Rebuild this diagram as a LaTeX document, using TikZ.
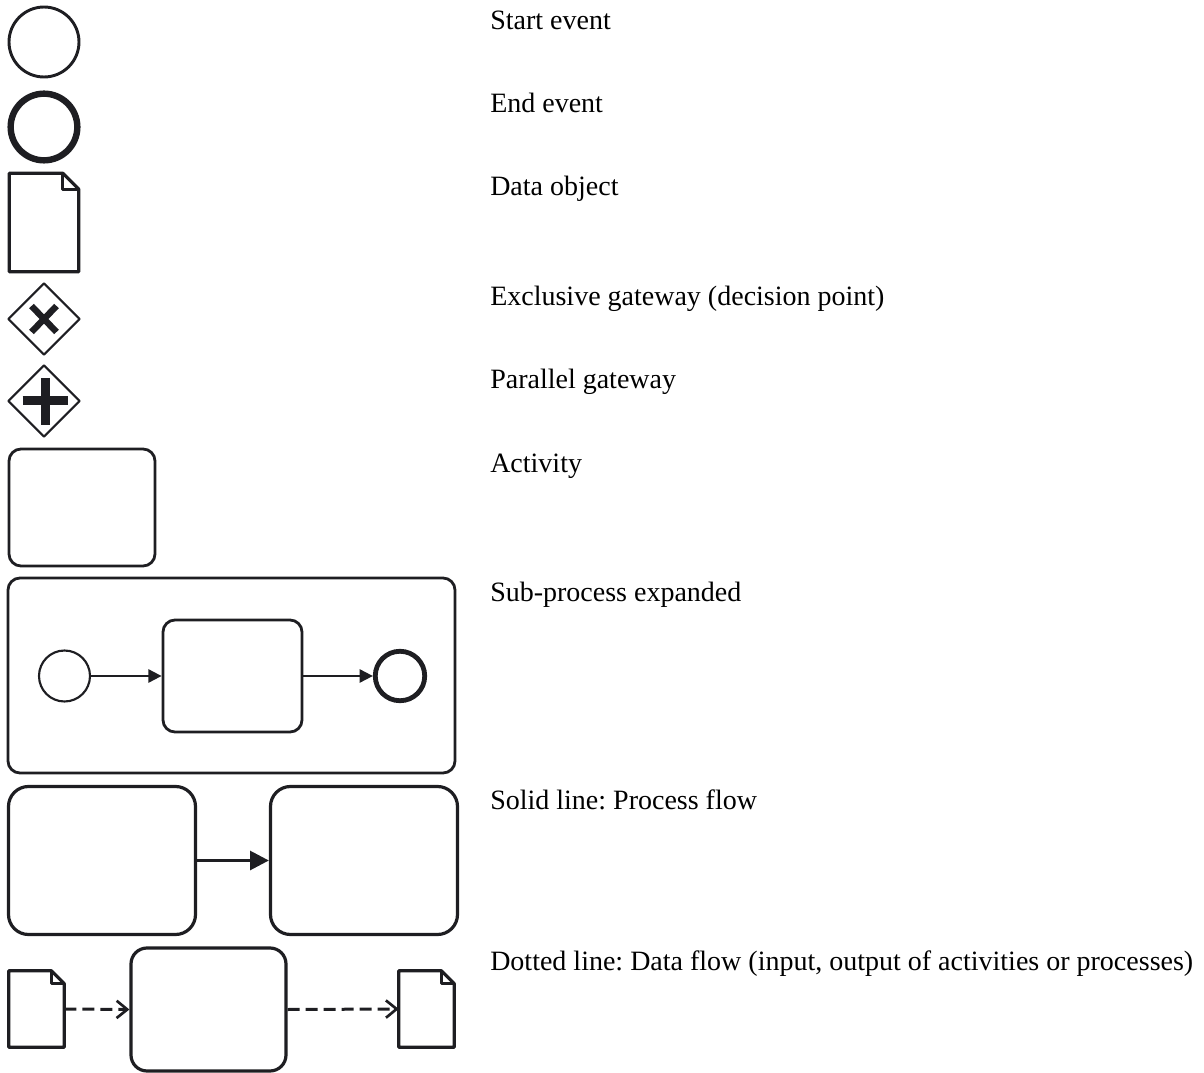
\documentclass[tikz,border=0pt]{standalone}
\usepackage{fontspec}
\setmainfont{Liberation Serif}
\usetikzlibrary{shapes.geometric,arrows.meta,calc}
\definecolor{ink}{HTML}{1E1E22}
\frenchspacing
\begin{document}
\begin{tikzpicture}[x=0.75pt,y=-0.75pt,line join=round,
  lbl/.style={anchor=base west,inner sep=0pt,font=\fontsize{21pt}{25pt}\selectfont,text=black},
  startev/.style={circle,draw=ink,inner sep=0pt,minimum size=#1},
  docanchor/.style={rectangle,draw=none,inner sep=0pt},
  gatew/.style={diamond,draw=ink,line width=1.6pt,inner sep=0pt,minimum size=54pt,aspect=1},
  task/.style={rectangle,draw=ink,inner sep=0pt},
  flowarrow/.style={draw=ink,-{Triangle[length=#1,width=#1]}},
  dataarrow/.style={draw=ink,line width=2.25pt,dash pattern=on 9pt off 4.5pt,-{Straight Barb[length=8pt,width=13pt,line width=2pt]}}
]
\useasboundingbox (0,0) rectangle (1204,1073);

% ---- Start event
\node[startev=52.5pt,line width=2.2pt] (se) at (44,42) {};
\node[lbl] (tse) at (490,30) {Start event};

% ---- End event
\node[startev=50pt,line width=4.8pt] (ee) at (44,127) {};
\node[lbl] (tee) at (490,113) {End event};

% ---- Data object
\node[docanchor,minimum width=51.75pt,minimum height=73.5pt] (doc) at (44,222.5) {};
\draw[draw=ink,line width=2.4pt] (doc.north west) -- ($(doc.north east)+(-16,0)$) -- ($(doc.north east)+(0,16)$) -- (doc.south east) -- (doc.south west) -- cycle;
\draw[draw=ink,line width=2.2pt] ($(doc.north east)+(-16,0)$) -- ($(doc.north east)+(-16,16)$) -- ($(doc.north east)+(0,16)$);
\node[lbl] (tdoc) at (490,196) {Data object};

% ---- Exclusive gateway
\node[gatew] (gx) at (44,319) {};
\draw[draw=ink,line width=4.8pt] ($(gx)+(-12.5,-13)$) -- ($(gx)+(12.5,13)$);
\draw[draw=ink,line width=4.8pt] ($(gx)+(-12.5,13)$) -- ($(gx)+(12.5,-13)$);
\node[lbl] (tgx) at (490,306) {Exclusive gateway (decision point)};

% ---- Parallel gateway
\node[gatew] (gp) at (44,401) {};
\draw[draw=ink,line width=6.75pt] ($(gp)+(-21.5,0)$) -- ($(gp)+(23.5,0)$);
\draw[draw=ink,line width=6.75pt] ($(gp)+(1,-23)$) -- ($(gp)+(1,24)$);
\node[lbl] (tgp) at (490,389) {Parallel gateway};

% ---- Activity
\node[task,line width=2.1pt,rounded corners=9pt,minimum width=109.5pt,minimum height=87.75pt] (act) at (82,507.5) {};
\node[lbl] (tact) at (490,472) {Activity};

% ---- Sub-process expanded
\node[task,line width=2.1pt,rounded corners=9pt,minimum width=335.25pt,minimum height=146.25pt] (sub) at (231.5,675.5) {};
\node[startev=38.25pt,line width=1.6pt] (sse) at (64.5,676) {};
\node[task,line width=2.1pt,rounded corners=9pt,minimum width=104.25pt,minimum height=84pt] (stk) at (232.5,676) {};
\node[startev=37.1pt,line width=3.6pt] (see) at (400,676) {};
\draw[flowarrow=10pt,line width=1.5pt] (sse.east) -- (stk.west);
\draw[flowarrow=10pt,line width=1.5pt] (stk.east) -- (see.west);
\node[lbl] (tsub) at (490,601) {Sub-process expanded};

% ---- Process flow
\node[task,line width=2.4pt,rounded corners=15pt,minimum width=140.25pt,minimum height=111pt] (pa) at (102,860.5) {};
\node[task,line width=2.4pt,rounded corners=15pt,minimum width=140.25pt,minimum height=111pt] (pb) at (364,860.5) {};
\draw[flowarrow=14pt,line width=2.4pt] (pa.east) -- (pb.west);
\node[lbl] (tpf) at (490,809) {Solid line: Process flow};

% ---- Data flow
\node[docanchor,minimum width=41.25pt,minimum height=57pt] (din) at (36.5,1009) {};
\draw[draw=ink,line width=2.4pt] (din.north west) -- ($(din.north east)+(-13,0)$) -- ($(din.north east)+(0,13)$) -- (din.south east) -- (din.south west) -- cycle;
\draw[draw=ink,line width=2pt] ($(din.north east)+(-13,0)$) -- ($(din.north east)+(-13,13)$) -- ($(din.north east)+(0,13)$);
\node[task,line width=2.4pt,rounded corners=12pt,minimum width=116.25pt,minimum height=92.25pt] (dtk) at (208.5,1009.5) {};
\node[docanchor,minimum width=41.25pt,minimum height=57pt] (dout) at (426.5,1009) {};
\draw[draw=ink,line width=2.4pt] (dout.north west) -- ($(dout.north east)+(-13,0)$) -- ($(dout.north east)+(0,13)$) -- (dout.south east) -- (dout.south west) -- cycle;
\draw[draw=ink,line width=2pt] ($(dout.north east)+(-13,0)$) -- ($(dout.north east)+(-13,13)$) -- ($(dout.north east)+(0,13)$);
\draw[dataarrow] (din.east) -- (dtk.west);
\draw[dataarrow] (dtk.east) -- (dout.west);
\node[lbl] (tdf) at (490,970) {Dotted line: Data flow (input, output of activities or processes)};
\end{tikzpicture}
\end{document}
